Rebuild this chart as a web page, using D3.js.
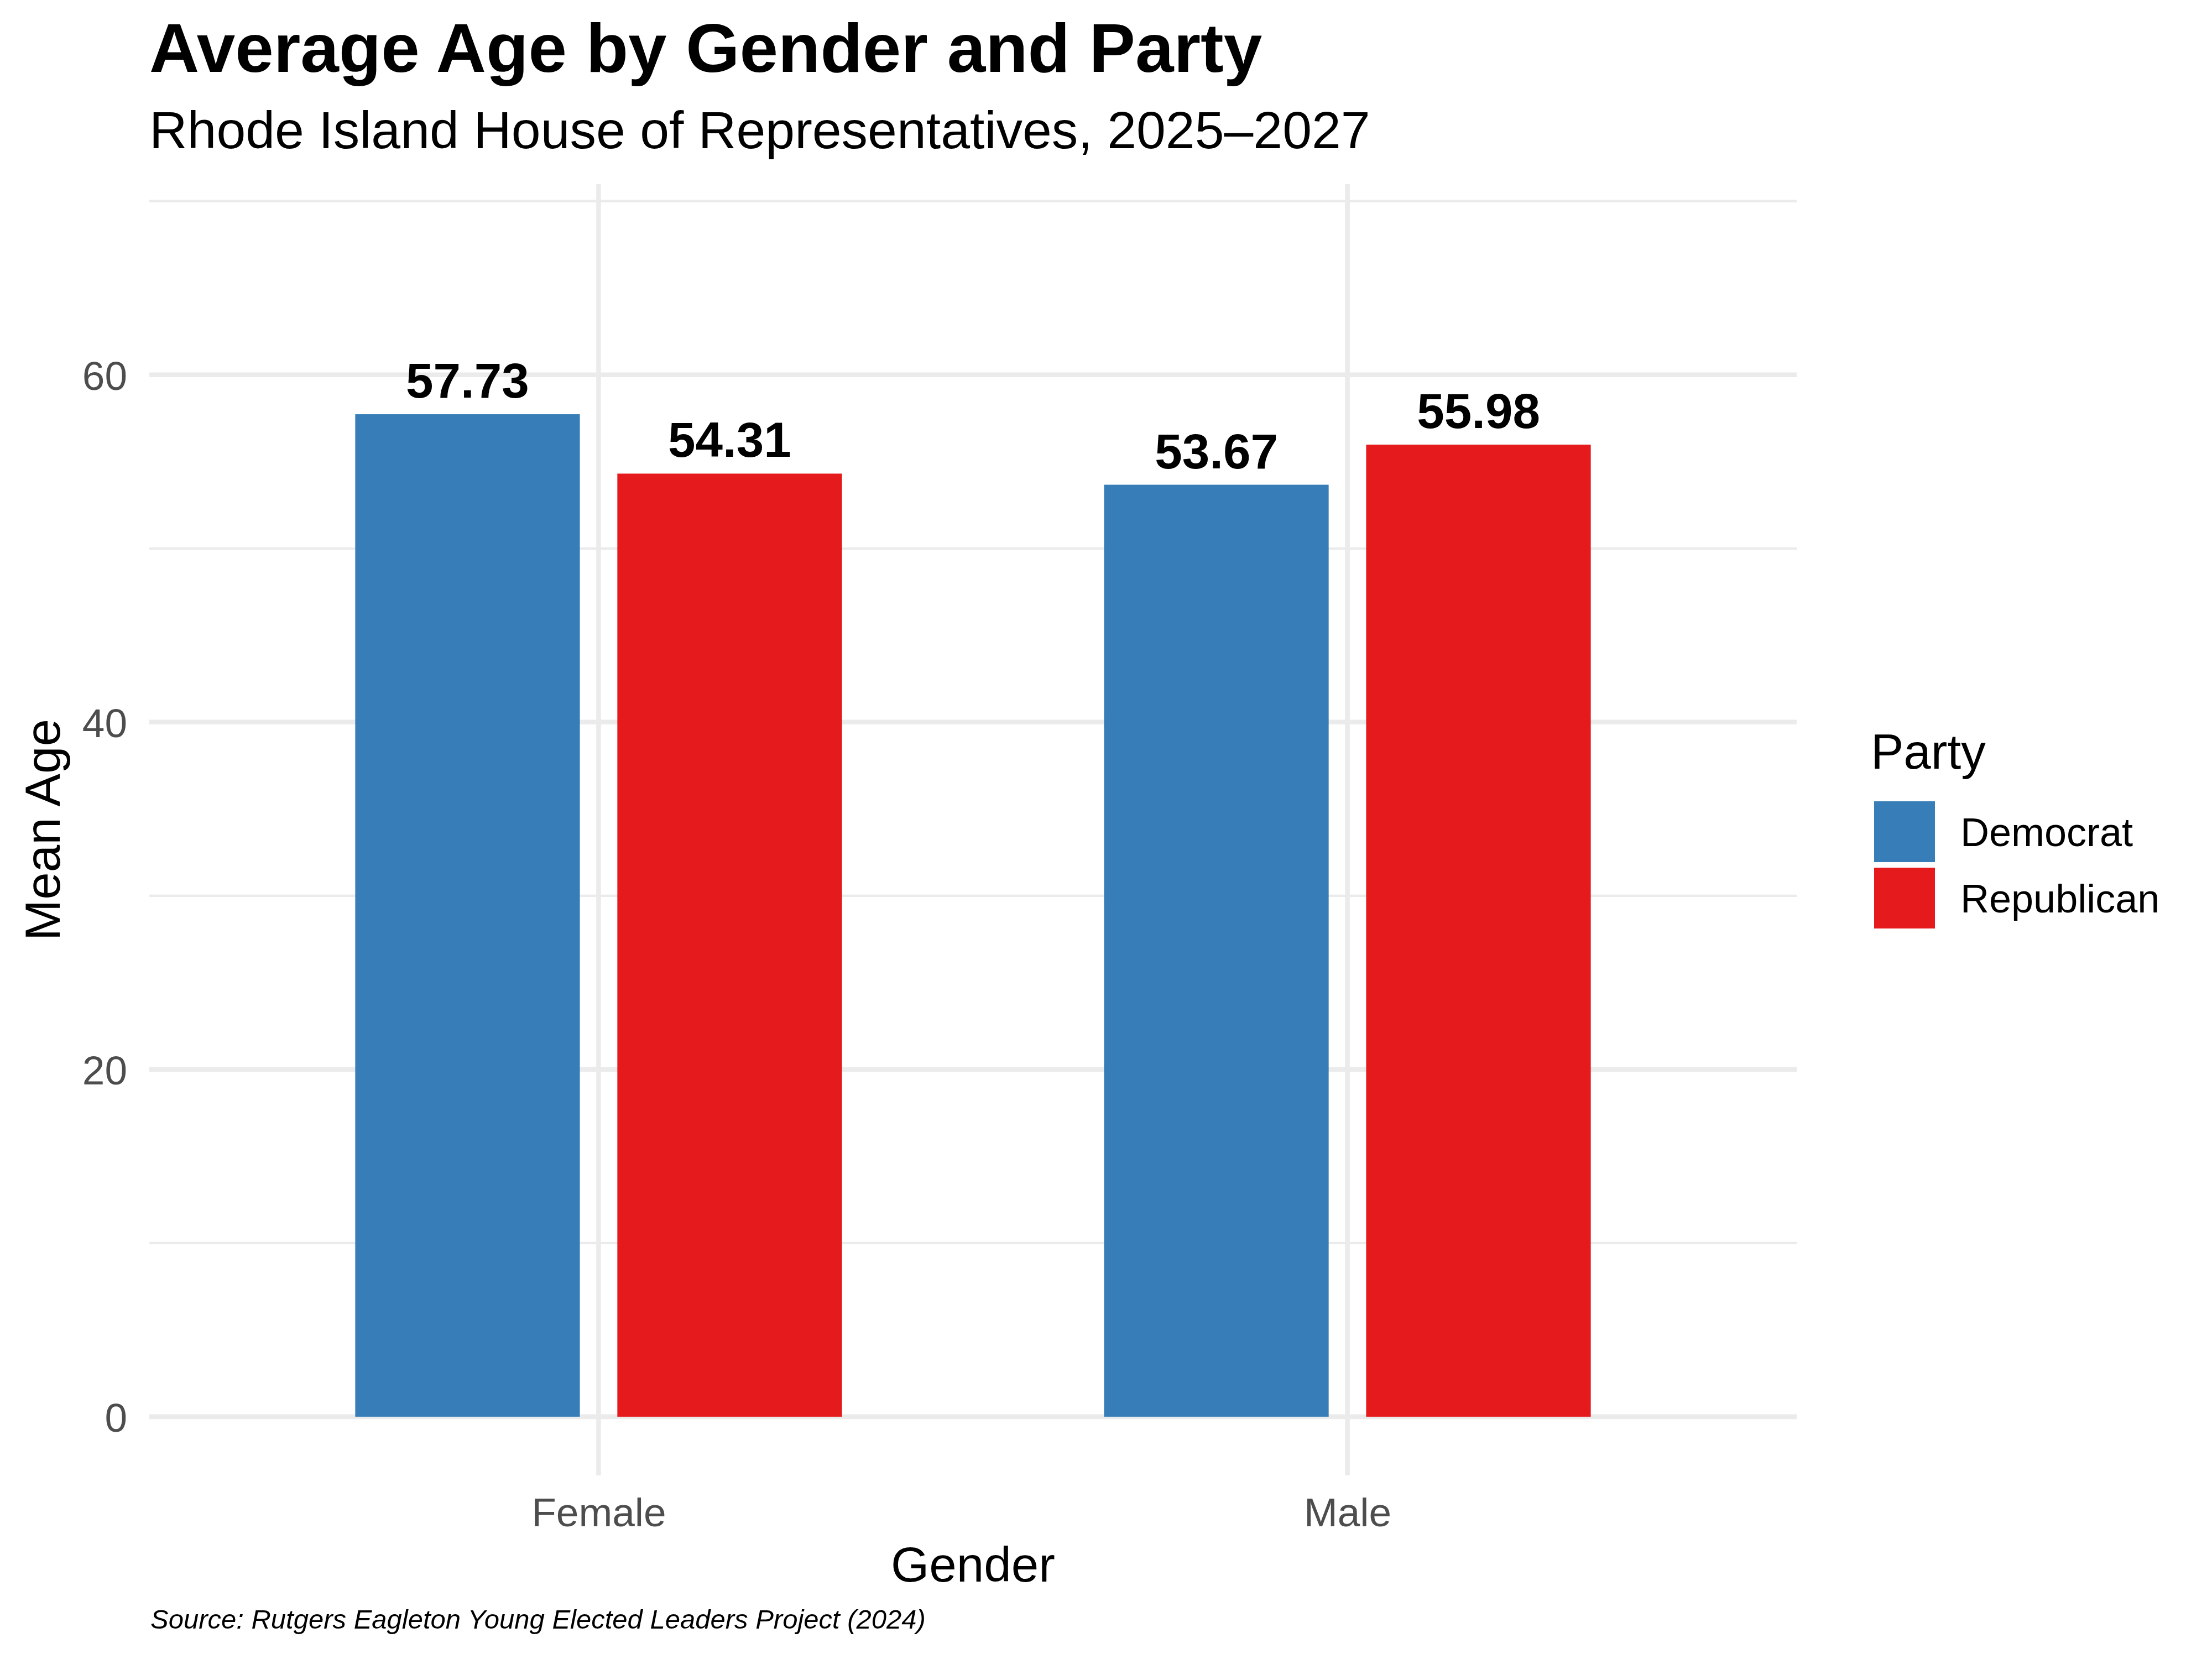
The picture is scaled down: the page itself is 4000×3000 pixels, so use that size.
<!DOCTYPE html>
<html>
<head>
<meta charset="utf-8">
<script src="https://cdn.jsdelivr.net/npm/d3@7"></script>
<style>
  body { margin: 0; background: #fff; }
  text { font-family: "Liberation Sans", Arial, sans-serif; }
</style>
</head>
<body>
<svg class="chart"></svg>
<script>
// data
var genders = ['Female', 'Male'];
var parties = ['Democrat', 'Republican'];
var partyColors = ['#377EB8', '#E41A1C'];
var democratAge = [57.73, 53.67];
var republicanAge = [54.31, 55.98];
var majorTicks = [0, 20, 40, 60];
var minorTicks = [10, 30, 50, 70];

var W = 4000, H = 3000;
var panel = { left: 270, right: 3249, top: 333, bottom: 2668 };

var svg = d3.select('svg.chart')
  .attr('width', W)
  .attr('height', H)
  .attr('viewBox', '0 0 ' + W + ' ' + H);

svg.append('rect').attr('width', W).attr('height', H).attr('fill', '#fff');

var rows = [];
genders.forEach(function (g, i) {
  rows.push({ gender: g, party: parties[0], value: democratAge[i] });
  rows.push({ gender: g, party: parties[1], value: republicanAge[i] });
});

var x = d3.scalePoint()
  .domain(genders)
  .range([panel.left, panel.right])
  .padding(0.6);

var step = x.step();

var xInner = d3.scaleBand()
  .domain(parties)
  .range([-0.325 * step, 0.325 * step])
  .paddingInner(0.143);

var y = d3.scaleLinear()
  .domain([-3.38, 70.98])
  .range([panel.bottom, panel.top]);

var color = d3.scaleOrdinal().domain(parties).range(partyColors);

// grid
var grid = svg.append('g');

grid.selectAll('line.minor')
  .data(minorTicks)
  .enter().append('line')
  .attr('x1', panel.left).attr('x2', panel.right)
  .attr('y1', function (d) { return y(d); })
  .attr('y2', function (d) { return y(d); })
  .attr('stroke', '#EBEBEB')
  .attr('stroke-width', 4.3);

grid.selectAll('line.major')
  .data(majorTicks)
  .enter().append('line')
  .attr('x1', panel.left).attr('x2', panel.right)
  .attr('y1', function (d) { return y(d); })
  .attr('y2', function (d) { return y(d); })
  .attr('stroke', '#EBEBEB')
  .attr('stroke-width', 8.6);

grid.selectAll('line.vert')
  .data(genders)
  .enter().append('line')
  .attr('x1', function (d) { return x(d); })
  .attr('x2', function (d) { return x(d); })
  .attr('y1', panel.top).attr('y2', panel.bottom)
  .attr('stroke', '#EBEBEB')
  .attr('stroke-width', 8.6);

// bars
svg.append('g').selectAll('rect')
  .data(rows)
  .enter().append('rect')
  .attr('x', function (d) { return x(d.gender) + xInner(d.party); })
  .attr('width', xInner.bandwidth())
  .attr('y', function (d) { return y(d.value); })
  .attr('height', function (d) { return y(0) - y(d.value); })
  .attr('fill', function (d) { return color(d.party); });

// value labels
svg.append('g').selectAll('text')
  .data(rows)
  .enter().append('text')
  .attr('x', function (d) { return x(d.gender) + xInner(d.party) + xInner.bandwidth() / 2; })
  .attr('y', function (d) { return y(d.value) - 30; })
  .attr('text-anchor', 'middle')
  .attr('font-size', 89)
  .attr('font-weight', 'bold')
  .attr('fill', '#000')
  .text(function (d) { return d.value.toFixed(2); });

// y axis labels
var yAxis = d3.axisLeft(y).tickValues(majorTicks).tickSize(0).tickPadding(0);
var yg = svg.append('g')
  .attr('transform', 'translate(230,0)')
  .call(yAxis);
yg.select('.domain').remove();
yg.selectAll('text')
  .attr('font-size', 73)
  .attr('font-family', '"Liberation Sans", Arial, sans-serif')
  .attr('fill', '#4D4D4D')
  .attr('x', 0)
  .attr('dy', '0.36em');

// x axis labels
var xAxis = d3.axisBottom(x).tickSize(0).tickPadding(0);
var xg = svg.append('g')
  .attr('transform', 'translate(0,2760)')
  .call(xAxis);
xg.select('.domain').remove();
xg.selectAll('text')
  .attr('font-size', 73)
  .attr('font-family', '"Liberation Sans", Arial, sans-serif')
  .attr('fill', '#4D4D4D')
  .attr('y', 0)
  .attr('dy', 0);

// axis titles
svg.append('text')
  .attr('x', (panel.left + panel.right) / 2)
  .attr('y', 2860)
  .attr('text-anchor', 'middle')
  .attr('font-size', 89)
  .attr('fill', '#000')
  .text('Gender');

svg.append('text')
  .attr('transform', 'translate(108,' + ((panel.top + panel.bottom) / 2) + ') rotate(-90)')
  .attr('text-anchor', 'middle')
  .attr('font-size', 89)
  .attr('fill', '#000')
  .text('Mean Age');

// titles
svg.append('text')
  .attr('x', 270)
  .attr('y', 130)
  .attr('font-size', 125)
  .attr('font-weight', 'bold')
  .attr('fill', '#000')
  .text('Average Age by Gender and Party');

svg.append('text')
  .attr('x', 270)
  .attr('y', 268)
  .attr('font-size', 95)
  .attr('font-family', '"Noto Sans", sans-serif')
  .attr('fill', '#000')
  .text('Rhode Island House of Representatives, 2025\u20132027');

svg.append('text')
  .attr('x', 272)
  .attr('y', 2945)
  .attr('font-size', 49)
  .attr('font-style', 'italic')
  .attr('fill', '#000')
  .text('Source: Rutgers Eagleton Young Elected Leaders Project (2024)');

// legend
var legend = svg.append('g').attr('transform', 'translate(3389,1449)');

legend.append('text')
  .attr('x', -6)
  .attr('y', -59)
  .attr('font-size', 89)
  .attr('fill', '#000')
  .text('Party');

var keys = legend.selectAll('g.key')
  .data(parties)
  .enter().append('g')
  .attr('transform', function (d, i) { return 'translate(0,' + (i * 120) + ')'; });

keys.append('rect')
  .attr('width', 110)
  .attr('height', 110)
  .attr('fill', function (d) { return color(d); });

keys.append('text')
  .attr('x', 156)
  .attr('y', 55)
  .attr('dy', '0.36em')
  .attr('font-size', 72)
  .attr('fill', '#000')
  .text(function (d) { return d; });
</script>
</body>
</html>
